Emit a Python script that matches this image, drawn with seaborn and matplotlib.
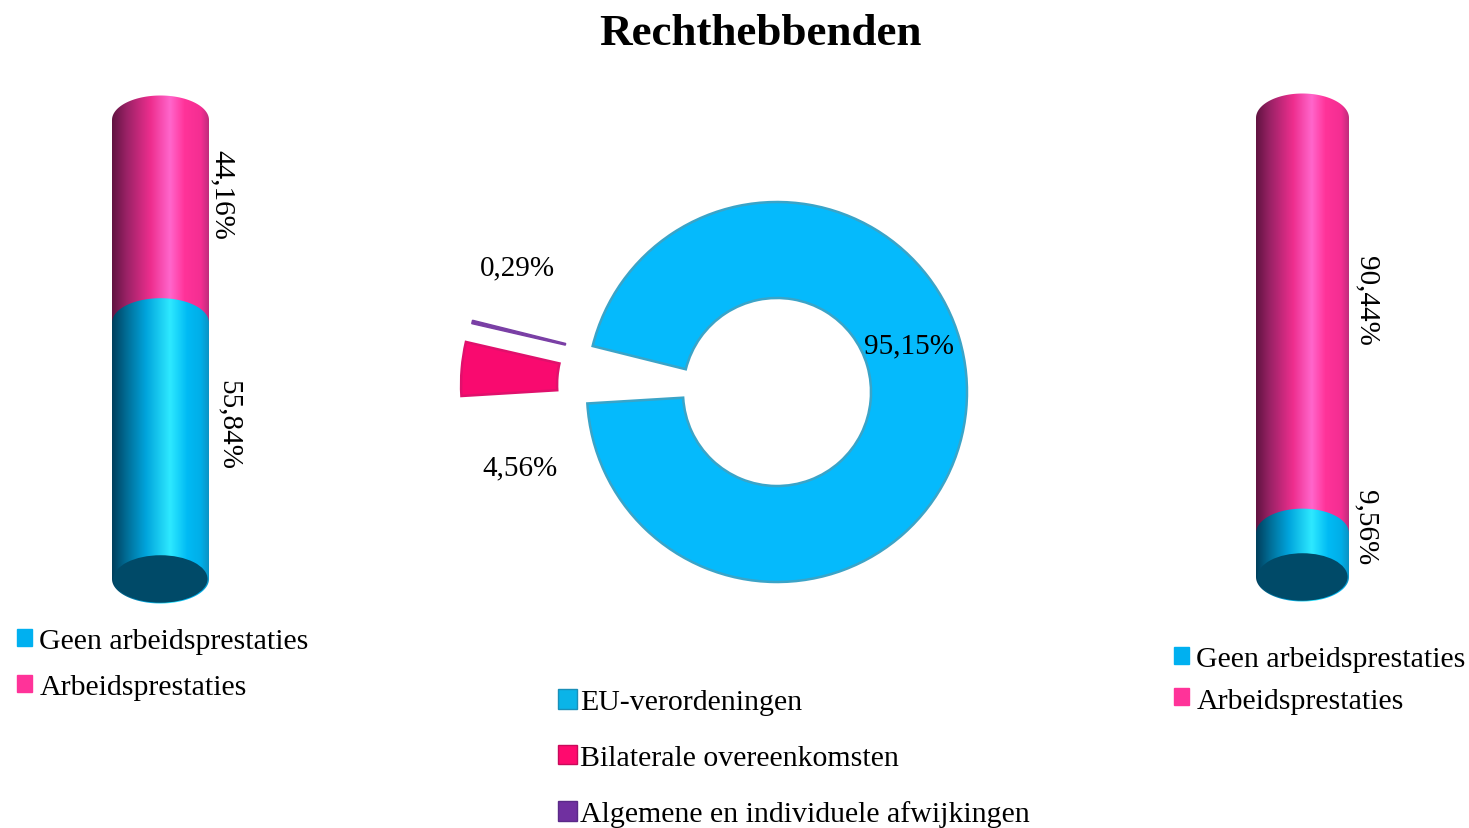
import numpy as np
import pandas as pd
import matplotlib
matplotlib.use("Agg")
import matplotlib.pyplot as plt
from matplotlib.colors import LinearSegmentedColormap
from matplotlib.patches import Ellipse, Patch, PathPatch
from matplotlib.path import Path
import seaborn as sns

# data
title = "Rechthebbenden"
stack_labels = ["Geen arbeidsprestaties", "Arbeidsprestaties"]
left_values = [55.84, 44.16]
right_values = [9.56, 90.44]
left_texts = ["55,84%", "44,16%"]
right_texts = ["9,56%", "90,44%"]
pie_labels = ["EU-verordeningen", "Bilaterale overeenkomsten", "Algemene en individuele afwijkingen"]
pie_values = [95.15, 4.56, 0.29]
pie_texts = ["95,15%", "4,56%", "0,29%"]

W, H = 1469, 829
BLUE, PINK = "#00b0f0", "#ff3399"

sns.set_theme(style="white")
plt.rcParams["font.family"] = ["Liberation Serif", "DejaVu Serif"]

blue_map = LinearSegmentedColormap.from_list("b", [(0, "#003f5c"), (0.15, "#006d96"), (0.35, "#00a4dc"), (0.6, "#2ee9ff"),
                                                   (0.78, "#00baf4"), (0.92, "#00aee8"), (1, "#0c93c4")])
pink_map = LinearSegmentedColormap.from_list("p", [(0, "#611341"), (0.15, "#9a2266"), (0.4, "#ee2e8e"), (0.6, "#ff66cc"),
                                                   (0.75, "#ff3399"), (0.92, "#f42e92"), (1, "#c02c7c")])


def px_axes(fig, x0, y0, x1, y1):
    # axes box given in picture pixels
    ax = fig.add_axes([x0 / W, 1 - y1 / H, (x1 - x0) / W, (y1 - y0) / H])
    ax.set_facecolor("none")
    return ax


def px_text(fig, x, y, s, **kw):
    fig.text(x / W, 1 - y / H, s, ha="center", va="center", color="black", **kw)


def cylinder(fig, x0, x1, y_zero, y_full, values, ry=24.5):
    ax = px_axes(fig, x0, y_full - 30, x1, y_zero + 30)
    per_px = 100 / (y_zero - y_full)
    ylim = (-30 * per_px, 100 + 30 * per_px)
    df = pd.DataFrame({"part": stack_labels, "value": values, "pos": ["c", "c"]})
    sns.barplot(data=df[:1], x="pos", y="value", width=1, color=BLUE, errorbar=None, ax=ax)
    sns.barplot(data=df[1:], x="pos", y="value", width=1, color=PINK, errorbar=None,
                bottom=values[0], ax=ax)
    ax.set_xlim(-0.5, 0.5)
    ax.set_ylim(*ylim)
    h = ry * per_px
    bars = list(ax.patches)
    t = np.linspace(0, np.pi, 60)
    for bar, cmap, z in zip(bars, [blue_map, pink_map], [3, 2]):
        b0, b1 = bar.get_y(), bar.get_y() + bar.get_height()
        xs = np.r_[0.5 * np.cos(t), 0.5 * np.cos(t + np.pi)]
        ys = np.r_[b1 + h * np.sin(t), b0 + h * np.sin(t + np.pi)]
        shape = PathPatch(Path(np.c_[xs, ys]), transform=ax.transData, fc="none", ec="none")
        ax.add_patch(shape)
        img = ax.imshow(np.linspace(0, 1, 256)[None, :], cmap=cmap, aspect="auto",
                        extent=(-0.5, 0.5, ylim[0], ylim[1]), zorder=z)
        img.set_clip_path(shape)
        bar.set_visible(False)
    ax.add_patch(Ellipse((0, 0), 0.97, 2 * h * 0.97, fc="#004a68", ec="none", zorder=4))
    ax.set_xlim(-0.5, 0.5)
    ax.set_ylim(*ylim)
    ax.axis("off")


fig = plt.figure(figsize=(W / 100, H / 100), dpi=100, facecolor="white")

cylinder(fig, 112, 209, 580, 121, left_values)
cylinder(fig, 1256, 1349, 578, 119, right_values)

# ring chart, one data unit is the outer radius
cx, cy, R = 777, 393, 190
ax = px_axes(fig, 440, 190, 990, 600)
ax.pie(pie_values, startangle=166, counterclock=False, explode=[0, 0.665, 0.65],
       colors=["#05bafc", "#f90a6f", "#7a3fa5"], radius=1, frame=False,
       wedgeprops={"width": 96 / R, "linewidth": 1.8})
for wedge, edge in zip(ax.patches, ["#3aa4c8", "#e0106c", "#7a3fa5"]):
    wedge.set_edgecolor(edge)
# both pulled out slices sit a little lower in the reference
for wedge in ax.patches[1:]:
    wx, wy = wedge.center
    wedge.set_center((wx, wy - 3 / R))
ax.patches[2].set_linewidth(1)
ax.set_aspect("auto")
ax.set_xlim((440 - cx) / R, (990 - cx) / R)
ax.set_ylim((cy - 600) / R, (cy - 190) / R)
ax.axis("off")

px_text(fig, 760, 34, title, fontsize=32.5, fontweight="bold")
px_text(fig, 909, 346, pie_texts[0], fontsize=21)
px_text(fig, 520, 468, pie_texts[1], fontsize=21)
px_text(fig, 517, 268, pie_texts[2], fontsize=21)
px_text(fig, 222, 195, left_texts[1], fontsize=21, rotation=-90)
px_text(fig, 229, 425, left_texts[0], fontsize=21, rotation=-90)
px_text(fig, 1367, 301, right_texts[1], fontsize=21, rotation=-90)
px_text(fig, 1366, 528, right_texts[0], fontsize=21, rotation=-90)


def legend(x, y, labels, colors, edges, spacing, size, pad):
    handles = [Patch(facecolor=c, edgecolor=e, linewidth=1) for c, e in zip(colors, edges)]
    fig.legend(handles=handles, labels=labels, loc="upper left", bbox_to_anchor=(x / W, 1 - y / H),
               frameon=False, fontsize=21.5, borderpad=0, borderaxespad=0, labelspacing=spacing,
               handlelength=size, handleheight=size, handletextpad=pad, labelcolor="black")


legend(17, 629, stack_labels, [BLUE, PINK], [BLUE, PINK], 0.66, 0.5, 0.25)
legend(1174, 647, stack_labels, [BLUE, PINK], [BLUE, PINK], 0.52, 0.5, 0.25)
legend(558, 690, pie_labels, ["#0ab4e8", "#ff0a6e", "#7030a0"], ["#1a8fb8", "#c80a5a", "#5a2a88"], 0.98, 0.64, 0.1)

fig.savefig("out.png", dpi=100)
